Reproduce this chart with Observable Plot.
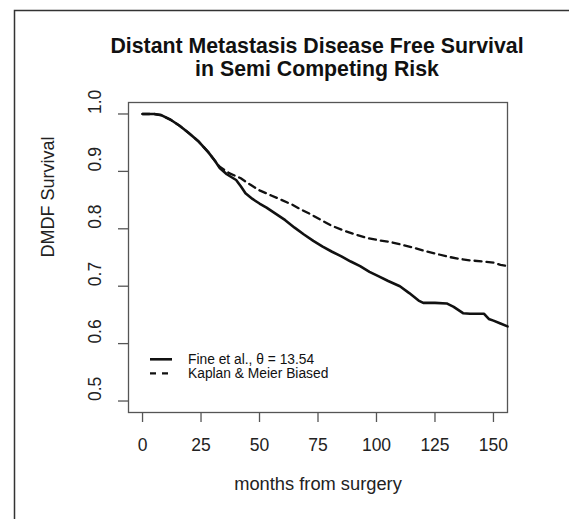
<!DOCTYPE html>
<html>
<head>
<meta charset="utf-8">
<script src="https://cdn.jsdelivr.net/npm/d3@7"></script>
<script src="https://cdn.jsdelivr.net/npm/@observablehq/plot@0.6"></script>
<style>
  html, body { margin: 0; padding: 0; background: #fff; }
  svg { display: block; }
</style>
</head>
<body>
<div id="chart"></div>
<script>
// Fine et al. estimate (solid)
const fineMonths = [0, 5, 8, 12, 16, 20, 24, 28, 31, 33, 36, 40, 42, 44, 47, 50, 53, 57, 61, 65, 69, 73, 77, 81, 85, 89, 93, 97, 101, 105, 110, 114, 118, 120, 125, 130, 133, 137, 140, 146, 148, 150, 153, 156];
const fineSurv   = [1.0, 1.0, 0.998, 0.99, 0.979, 0.966, 0.952, 0.934, 0.918, 0.906, 0.895, 0.885, 0.874, 0.862, 0.852, 0.844, 0.837, 0.826, 0.815, 0.802, 0.79, 0.779, 0.769, 0.76, 0.752, 0.743, 0.735, 0.725, 0.717, 0.709, 0.70, 0.688, 0.675, 0.671, 0.671, 0.670, 0.664, 0.653, 0.652, 0.652, 0.643, 0.64, 0.635, 0.63];
// Kaplan & Meier biased estimate (dashed)
const kmMonths = [0, 5, 8, 12, 16, 20, 24, 28, 31, 33, 37, 42, 46, 50, 55, 59, 64, 68, 72, 76, 81, 86, 91, 96, 101, 106, 111, 116, 121, 126, 131, 135, 140, 146, 150, 153, 156];
const kmSurv   = [1.0, 1.0, 0.998, 0.99, 0.979, 0.966, 0.952, 0.934, 0.918, 0.908, 0.897, 0.888, 0.877, 0.867, 0.858, 0.851, 0.842, 0.833, 0.825, 0.816, 0.805, 0.797, 0.790, 0.784, 0.780, 0.777, 0.772, 0.767, 0.761, 0.756, 0.751, 0.748, 0.745, 0.743, 0.741, 0.737, 0.735];

const xTicks = [0, 25, 50, 75, 100, 125, 150];
const yTicks = [0.5, 0.6, 0.7, 0.8, 0.9, 1.0];
const titleLines = ["Distant Metastasis Disease Free Survival", "in Semi Competing Risk"];
const xLabel = "months from surgery";
const yLabel = "DMDF Survival";
const legendLabels = ["Fine et al., \u03b8 = 13.54", "Kaplan & Meier Biased"];

const fine = fineMonths.map((t, i) => ({t, s: fineSurv[i]}));
const km = kmMonths.map((t, i) => ({t, s: kmSurv[i]}));

const font = "'Liberation Sans', Arial, Helvetica, sans-serif";

const chart = Plot.plot({
  width: 569,
  height: 519,
  marginLeft: 128,
  marginRight: 62,
  marginTop: 102,
  marginBottom: 107,
  x: {domain: [-6, 156]},
  y: {domain: [0.48, 1.02]},
  style: {fontFamily: font, fontSize: "17.5px", background: "#fff", color: "#222"},
  marks: [
    Plot.frame({stroke: "#555", strokeWidth: 1.3}),
    Plot.axisX({ticks: xTicks, tickSize: 10, tickPadding: 16, label: null, stroke: "#555", fill: "#222", strokeWidth: 1.3}),
    Plot.axisY({ticks: yTicks, tickSize: 10, tickFormat: () => "", label: null, stroke: "#555", strokeWidth: 1.3}),
    Plot.text(yTicks, {y: d => d, text: d => d.toFixed(1), frameAnchor: "left", dx: -33, rotate: -90, fontSize: 17.5, fill: "#222"}),
    Plot.text([xLabel], {frameAnchor: "bottom", dy: 77, fontSize: 18.3, fill: "#222"}),
    Plot.text([yLabel], {frameAnchor: "left", dx: -80, rotate: -90, fontSize: 18, fill: "#222"}),
    Plot.line(km, {x: "t", y: "s", stroke: "#111", strokeWidth: 2.3, strokeDasharray: "7,5"}),
    Plot.line(fine, {x: "t", y: "s", stroke: "#111", strokeWidth: 2.6})
  ]
});

const svg = d3.select(chart);

// outer figure border (cropped)
svg.append("path")
  .attr("d", "M14.5,519 V10.5 H569")
  .attr("fill", "none")
  .attr("stroke", "#333")
  .attr("stroke-width", 1.5);

// title
svg.append("g")
  .attr("font-family", font)
  .attr("font-weight", "bold")
  .attr("font-size", 21.3)
  .attr("fill", "#111")
  .attr("text-anchor", "middle")
  .selectAll("text")
  .data(titleLines)
  .join("text")
  .attr("x", 317)
  .attr("y", (d, i) => 53 + i * 23)
  .text(d => d);

// legend
const lg = svg.append("g")
  .attr("font-family", font)
  .attr("font-size", 13.8)
  .attr("fill", "#111")
  .attr("text-anchor", "start");
const rows = lg.selectAll("g").data(legendLabels).join("g")
  .attr("transform", (d, i) => `translate(0,${359.3 + i * 14})`);
rows.append("line")
  .attr("x1", 150).attr("x2", 172).attr("y1", 0).attr("y2", 0)
  .attr("stroke", "#111")
  .attr("stroke-width", (d, i) => i === 0 ? 2.6 : 2.3)
  .attr("stroke-dasharray", (d, i) => i === 0 ? null : "6,6");
rows.append("text")
  .attr("x", 188)
  .attr("dy", "0.35em")
  .attr("text-anchor", "start")
  .text(d => d);

document.getElementById("chart").appendChild(chart);
</script>
</body>
</html>
